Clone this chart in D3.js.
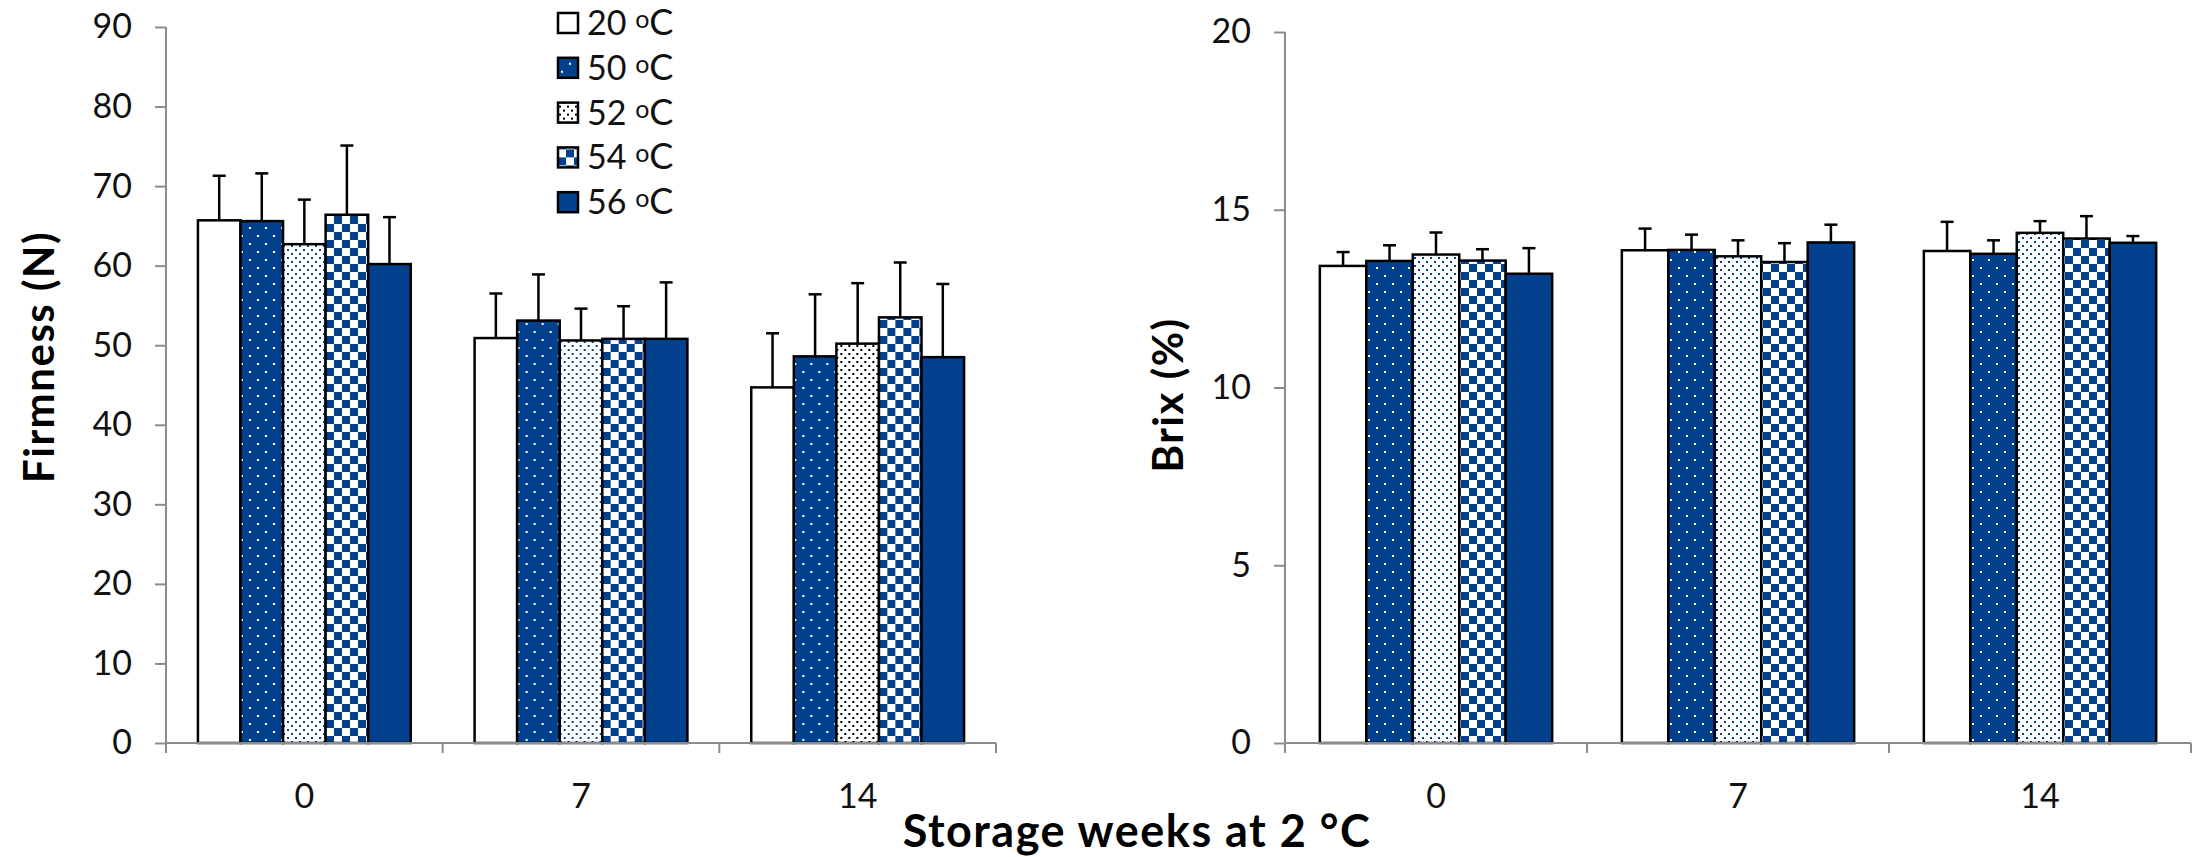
<!DOCTYPE html>
<html>
<head>
<meta charset="utf-8">
<script src="https://cdn.jsdelivr.net/npm/d3@7"></script>
<style>
  body { margin: 0; background: #fff; }
  svg { font-family: Lato, "Noto Sans", sans-serif; }
</style>
</head>
<body>
<div id="chart"></div>
<script>
// data
const weeks = ["0", "7", "14"]
const temps = ["20", "50", "52", "54", "56"]

// firmness (N), rows = weeks, columns = temps
const firmnessMean = [
    [65.7, 65.6, 62.7, 66.4, 60.2],
    [50.9, 53.1, 50.6, 50.8, 50.8],
    [44.7, 48.6, 50.2, 53.5, 48.5]
]
const firmnessErr = [
    [5.6, 6.0, 5.6, 8.7, 5.9],
    [5.6, 5.8, 4.0, 4.1, 7.1],
    [6.8, 7.8, 7.6, 6.9, 9.2]
]
// brix (%)
const brixMean = [
    [13.42, 13.56, 13.74, 13.57, 13.20],
    [13.86, 13.87, 13.69, 13.53, 14.08],
    [13.84, 13.76, 14.35, 14.19, 14.07]
]
const brixErr = [
    [0.39, 0.44, 0.62, 0.32, 0.72],
    [0.61, 0.43, 0.45, 0.53, 0.50],
    [0.82, 0.38, 0.33, 0.63, 0.19]
]
const firmnessTicks = [0, 10, 20, 30, 40, 50, 60, 70, 80, 90]
const brixTicks = [0, 5, 10, 15, 20]

const blue = "#03418f"
const axisGrey = "#8c8c8c"
const width = 2208, height = 857

const svg = d3.select("#chart").append("svg")
    .attr("width", width)
    .attr("height", height)

// fill patterns
const defs = svg.append("defs")
const p50 = defs.append("pattern").attr("id", "p50").attr("patternUnits", "userSpaceOnUse")
    .attr("width", 16).attr("height", 16)
p50.append("rect").attr("width", 16).attr("height", 16).attr("fill", blue)
p50.append("rect").attr("x", 3).attr("y", 3).attr("width", 2).attr("height", 2).attr("fill", "#fff")
p50.append("rect").attr("x", 11).attr("y", 11).attr("width", 2).attr("height", 2).attr("fill", "#fff")

function dotPattern(id, colour) {
    const p = defs.append("pattern").attr("id", id).attr("patternUnits", "userSpaceOnUse")
        .attr("width", 8).attr("height", 8)
    p.append("rect").attr("width", 8).attr("height", 8).attr("fill", "#fff")
    p.append("rect").attr("x", 1).attr("y", 1).attr("width", 2).attr("height", 2).attr("fill", colour)
    p.append("rect").attr("x", 5).attr("y", 5).attr("width", 2).attr("height", 2).attr("fill", colour)
}
dotPattern("p52", blue)
dotPattern("p52k", "#000")

const p54 = defs.append("pattern").attr("id", "p54").attr("patternUnits", "userSpaceOnUse")
    .attr("width", 16).attr("height", 16)
p54.append("rect").attr("width", 16).attr("height", 16).attr("fill", "#fff")
p54.append("rect").attr("width", 8).attr("height", 8).attr("fill", blue)
p54.append("rect").attr("x", 8).attr("y", 8).attr("width", 8).attr("height", 8).attr("fill", blue)

const fills = ["#fff", "url(#p50)", "url(#p52)", "url(#p54)", blue]

function drawPanel(opts) {
    const { left, right, top, bottom, max, ticks, means, errs, title, titleX, titleY, fillFor } = opts

    const y = d3.scaleLinear().domain([0, max]).range([bottom, top])
    const x0 = d3.scaleBand().domain(weeks).range([left, right])
    const x1 = d3.scaleBand().domain(temps).range([0, x0.bandwidth()])
        .paddingInner(0).paddingOuter(0.75)

    const g = svg.append("g")

    // y axis
    const yAxis = g.append("g")
        .attr("transform", `translate(${left},0)`)
        .call(d3.axisLeft(y).tickValues(ticks).tickSize(11).tickSizeOuter(0).tickPadding(23))
    yAxis.select(".domain").remove()
    yAxis.selectAll(".tick line").attr("stroke", axisGrey).attr("stroke-width", 2)
    yAxis.selectAll(".tick text").attr("font-size", 34).attr("fill", "#111")
        .attr("font-family", "Lato, sans-serif")
    g.append("line")
        .attr("x1", left).attr("x2", left)
        .attr("y1", y(max)).attr("y2", bottom + 10)
        .attr("stroke", axisGrey).attr("stroke-width", 2)

    // bars
    weeks.forEach((w, wi) => {
        const grp = g.append("g").attr("transform", `translate(${x0(w)},0)`)
        temps.forEach((t, ti) => {
            const v = means[wi][ti], e = errs[wi][ti]
            const bx = x1(t), bw = x1.bandwidth()
            grp.append("rect")
                .attr("x", bx).attr("y", y(v))
                .attr("width", bw).attr("height", y(0) - y(v))
                .attr("fill", fillFor(wi, ti))
                .attr("stroke", "#000").attr("stroke-width", 2.5)
            const cx = bx + bw / 2
            grp.append("line")
                .attr("x1", cx).attr("x2", cx)
                .attr("y1", y(v)).attr("y2", y(v + e))
                .attr("stroke", "#000").attr("stroke-width", 2.5)
            grp.append("line")
                .attr("x1", cx - 6.5).attr("x2", cx + 6.5)
                .attr("y1", y(v + e)).attr("y2", y(v + e))
                .attr("stroke", "#000").attr("stroke-width", 2.5)
        })
    })

    // x axis
    g.append("line")
        .attr("x1", left).attr("x2", right)
        .attr("y1", bottom).attr("y2", bottom)
        .attr("stroke", axisGrey).attr("stroke-width", 2)
    weeks.forEach(w => {
        g.append("line")
            .attr("x1", x0(w) + x0.bandwidth()).attr("x2", x0(w) + x0.bandwidth())
            .attr("y1", bottom).attr("y2", bottom + 10)
            .attr("stroke", axisGrey).attr("stroke-width", 2)
        g.append("text")
            .attr("x", x0(w) + x0.bandwidth() / 2)
            .attr("y", bottom + 65)
            .attr("text-anchor", "middle")
            .attr("font-size", 34).attr("fill", "#111")
            .text(w)
    })

    // y title
    g.append("text")
        .attr("transform", `translate(${titleX},${titleY}) rotate(-90)`)
        .attr("text-anchor", "middle")
        .attr("dominant-baseline", "central")
        .attr("font-size", 42).attr("font-weight", 700)
        .attr("letter-spacing", 1.5)
        .text(title)
}

drawPanel({
    left: 166, right: 996, top: 27, bottom: 743, max: 90,
    ticks: firmnessTicks, means: firmnessMean, errs: firmnessErr,
    title: "Firmness (N)", titleX: 38, titleY: 357,
    // the 52 oC bar at week 14 is drawn with black dots
    fillFor: (wi, ti) => (ti === 2 && weeks[wi] === "14") ? "url(#p52k)" : fills[ti]
})

drawPanel({
    left: 1285, right: 2191, top: 32, bottom: 743, max: 20,
    ticks: brixTicks, means: brixMean, errs: brixErr,
    title: "Brix (%)", titleX: 1167, titleY: 395,
    fillFor: (wi, ti) => fills[ti]
})

// legend
const legendFills = ["#fff", "url(#p50)", "url(#p52k)", "url(#p54)", blue]
const legend = svg.append("g").attr("transform", "translate(558,23)")
temps.forEach((t, i) => {
    const row = legend.append("g").attr("transform", `translate(0,${i * 44.8})`)
    row.append("rect")
        .attr("x", 0).attr("y", -10).attr("width", 20).attr("height", 20)
        .attr("fill", legendFills[i]).attr("stroke", "#000").attr("stroke-width", 2.5)
    const txt = row.append("text")
        .attr("x", 29).attr("y", 12)
        .attr("font-size", 34).attr("fill", "#111")
    txt.append("tspan").text(t + " ")
    txt.append("tspan").attr("font-size", 25).attr("dy", -7).text("o")
    txt.append("tspan").attr("dy", 7).attr("font-size", 36).text("C")
})

// shared x title
svg.append("text")
    .attr("x", 1137).attr("y", 847)
    .attr("text-anchor", "middle")
    .attr("font-size", 45).attr("font-weight", 700)
    .attr("letter-spacing", 1.5)
    .text("Storage weeks at 2 °C")
</script>
</body>
</html>
